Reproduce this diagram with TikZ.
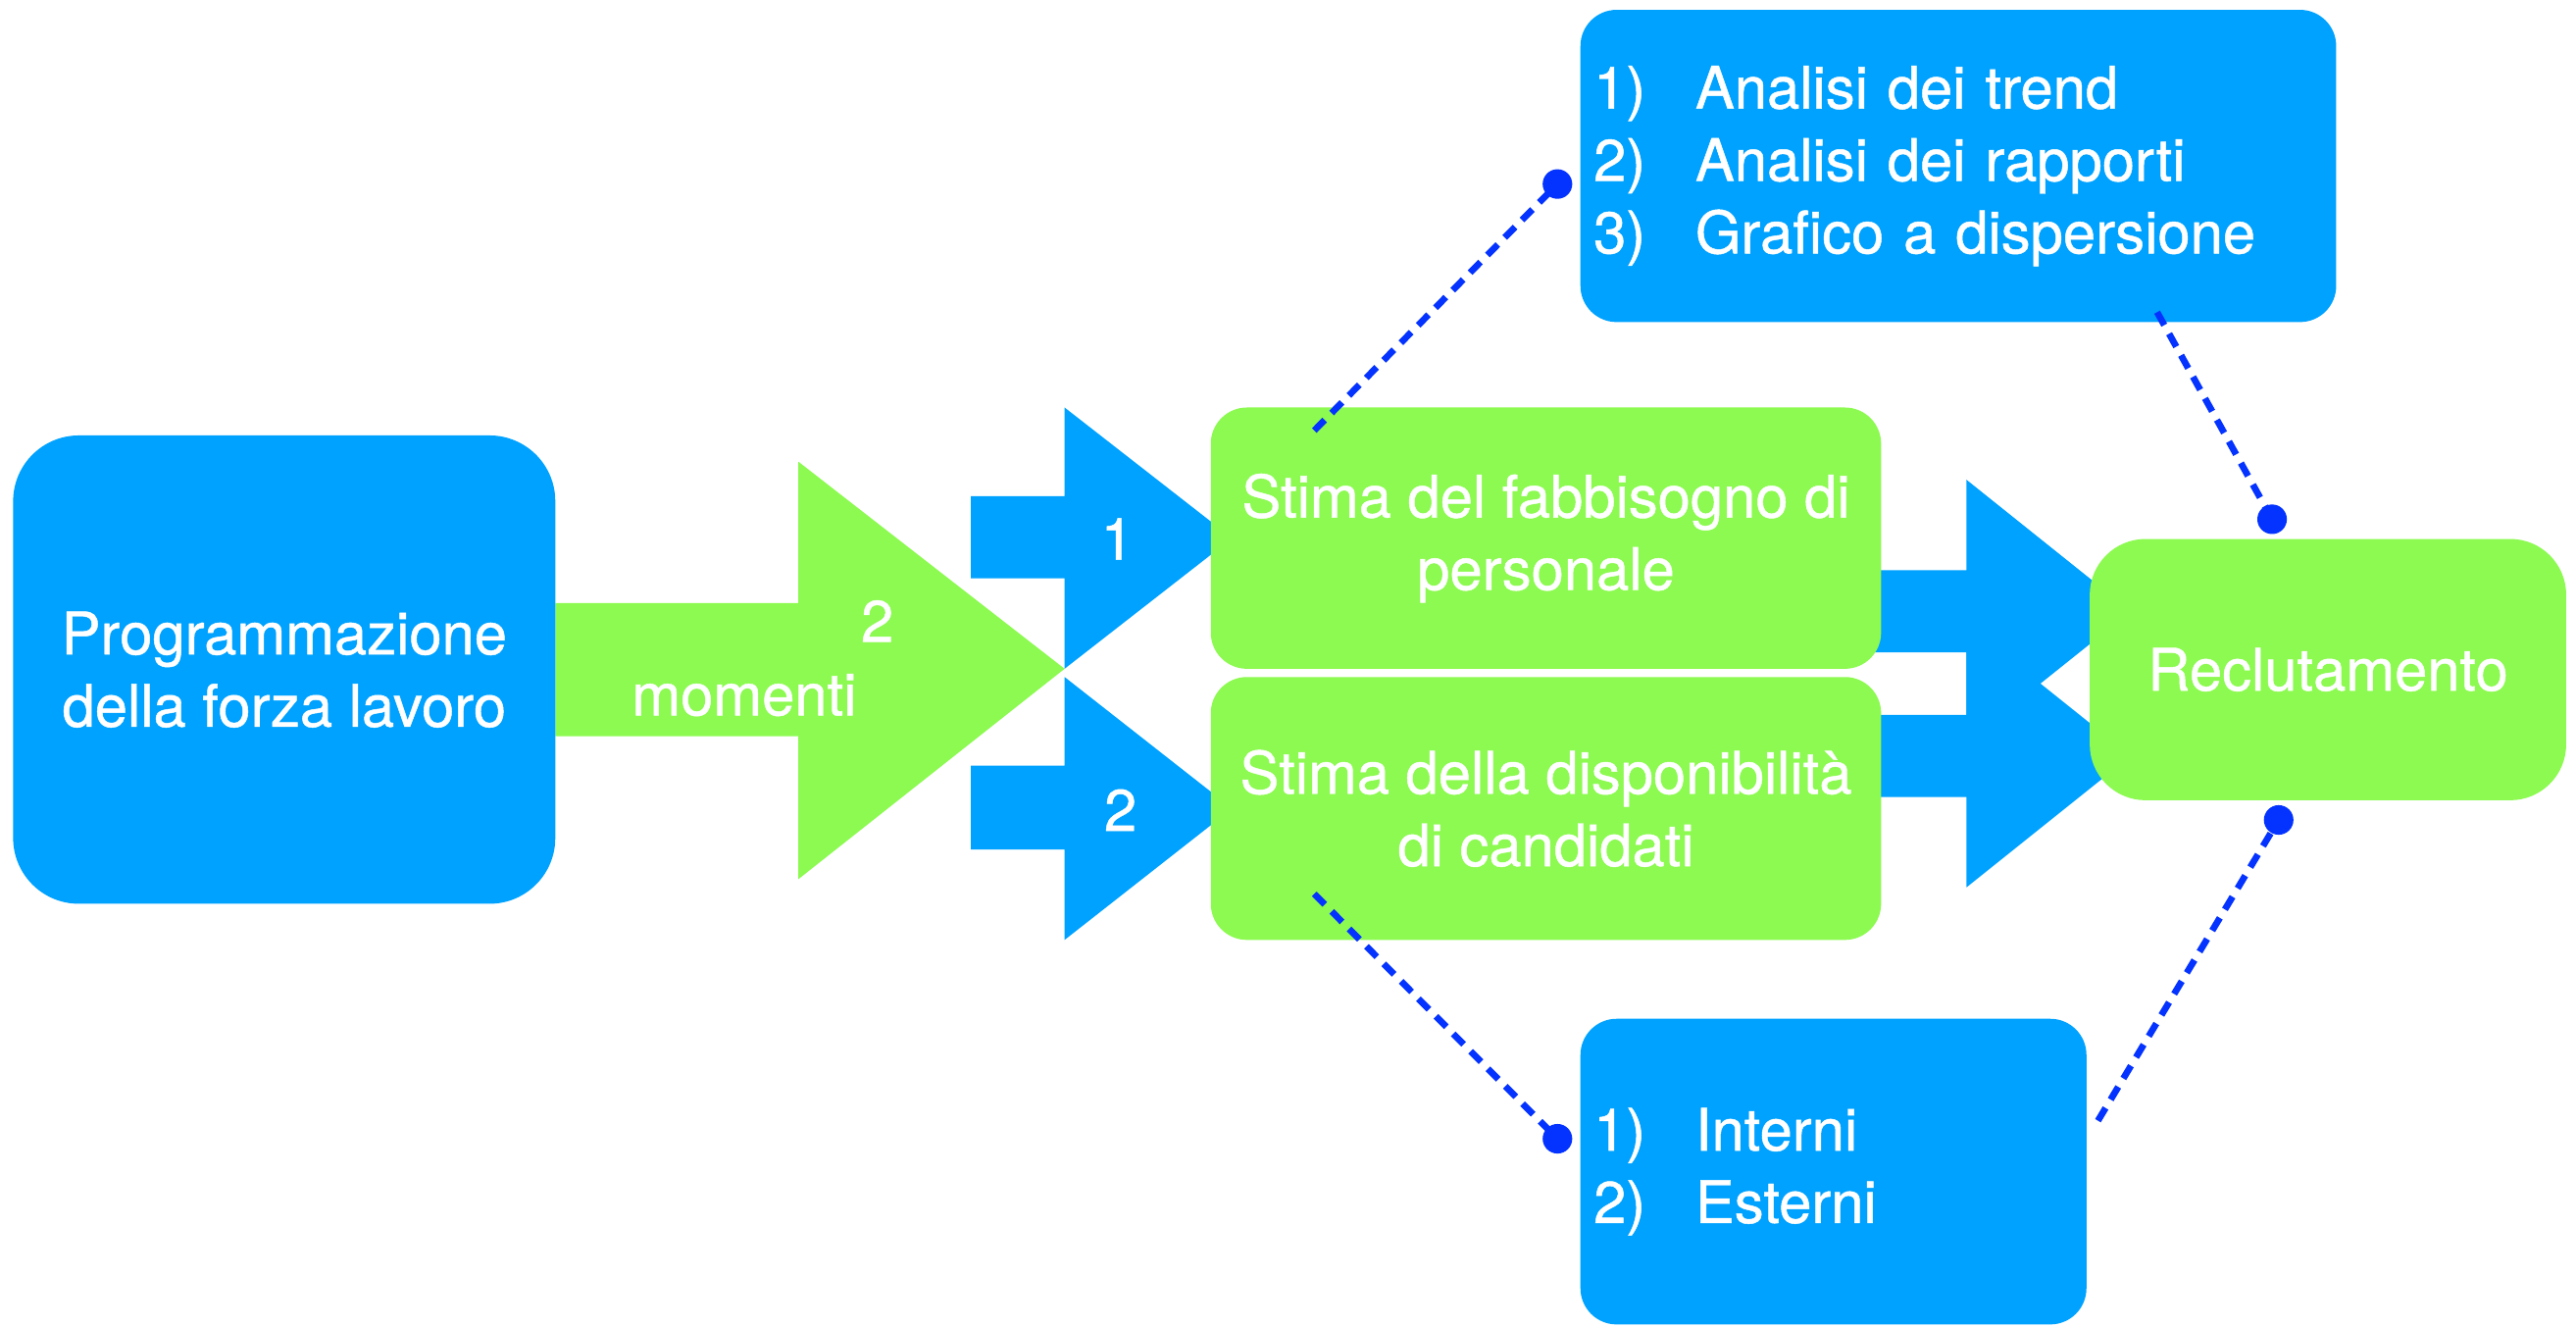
\documentclass[tikz,border=0pt]{standalone}
\usepackage{fontspec}
\setmainfont{TeX Gyre Heros}
\newfontfamily\heavysans[FakeBold=0.8]{TeX Gyre Heros}
\usepackage{tikz}
\usetikzlibrary{backgrounds}
\definecolor{colBlue}  {HTML}{00A2FF}
\definecolor{colGreen} {HTML}{8CFA50}
\definecolor{colDot}   {HTML}{0433FF}
\newlength\unitpx
\setlength\unitpx{0.016754cm}
\newcommand{\boxfont}{\heavysans\fontsize{17}{21}\selectfont}
\tikzset{
  box/.style={
    rounded corners=22\unitpx, inner sep=0pt,
    text=white, align=center, font=\boxfont
  },
  bluebox/.style ={box, fill=colBlue},
  greenbox/.style={box, fill=colGreen},
  listbox/.style ={bluebox, align=left, inner xsep=8\unitpx},
  bluearr/.style ={fill=colBlue},
  greenarr/.style={fill=colGreen},
  arrlabel/.style={text=white, font=\boxfont, inner sep=0pt},
  dot/.style={
    circle, fill=colDot, inner sep=0pt, minimum size=18\unitpx
  },
  dashlink/.style={
    draw=colDot, line width=4\unitpx,
    dash pattern=on 9\unitpx off 6\unitpx
  }
}
\newcommand{\itemline}[2]{\makebox[62\unitpx][l]{#1}#2}

\begin{document}
\begin{tikzpicture}[x=\unitpx, y=-\unitpx]
  \useasboundingbox (0,0) rectangle (1568,808);

  %% -- Boxes ----------------------------------------------------------
  \node[bluebox, rounded corners=40\unitpx,
        minimum width=330\unitpx, minimum height=285\unitpx] (prog) at (173,407.5)
    {Programmazione\\della forza lavoro};

  \node[greenbox, minimum width=408\unitpx, minimum height=159\unitpx] (fabb) at (941,327.5)
    {Stima del fabbisogno di\\personale};
  \node[greenbox, minimum width=408\unitpx, minimum height=160\unitpx] (disp) at (941,492)
    {Stima della disponibilità\\di candidati};

  \node[greenbox, rounded corners=34\unitpx,
        minimum width=290\unitpx, minimum height=159\unitpx] (recl) at (1417,407.5)
    {Reclutamento};

  \node[listbox, text width=444\unitpx,
        minimum width=460\unitpx, minimum height=190\unitpx] (metodi) at (1192,101)
    {\itemline{1)}{Analisi dei trend}\\
     \itemline{2)}{Analisi dei rapporti}\\
     \itemline{3)}{Grafico a dispersione}};

  \node[listbox, text width=292\unitpx,
        minimum width=308\unitpx, minimum height=186\unitpx] (fonti) at (1116,713)
    {\itemline{1)}{Interni}\\
     \itemline{2)}{Esterni}};

  %% -- Block arrows (behind the boxes) --------------------------------
  \begin{scope}[on background layer]
    \fill[greenarr] (338,367) -- (486,367) -- (486,281) -- (648,407)
      -- (486,535) -- (486,448) -- (338,448) -- cycle;
    \fill[bluearr] (591,302) -- (648,302) -- (648,248) -- (750,327.5)
      -- (648,407) -- (648,352) -- (591,352) -- cycle;
    \fill[bluearr] (591,466) -- (648,466) -- (648,412) -- (750,492)
      -- (648,572) -- (648,517) -- (591,517) -- cycle;
    \fill[bluearr] (1140,347) -- (1197,347) -- (1197,292) -- (1297,372)
      -- (1197,452) -- (1197,397) -- (1140,397) -- cycle;
    \fill[bluearr] (1140,435) -- (1197,435) -- (1197,380) -- (1297,460)
      -- (1197,540) -- (1197,485) -- (1140,485) -- cycle;
  \end{scope}

  \node[arrlabel] (mom2) at (534,378) {2};
  \node[arrlabel] (mom)  at (453,423) {momenti};
  \node[arrlabel] (uno)  at (680,328) {1};
  \node[arrlabel] (due)  at (682,493) {2};

  %% -- Dashed links with dot ends -------------------------------------
  \coordinate (fabbS)   at (800,262);
  \coordinate (metodiS) at (1313,190);
  \coordinate (dispS)   at (800,544);
  \coordinate (fontiS)  at (1277,682);
  \node[dot] (dotA) at (948,112) {};
  \node[dot] (dotB) at (1383,316) {};
  \node[dot] (dotC) at (948,693) {};
  \node[dot] (dotD) at (1387,499) {};

  \draw[dashlink] (fabbS) -- (dotA.center);
  \draw[dashlink] (metodiS) -- (dotB.center);
  \draw[dashlink] (dispS) -- (dotC.center);
  \draw[dashlink] (fontiS) -- (dotD.center);
\end{tikzpicture}
\end{document}
